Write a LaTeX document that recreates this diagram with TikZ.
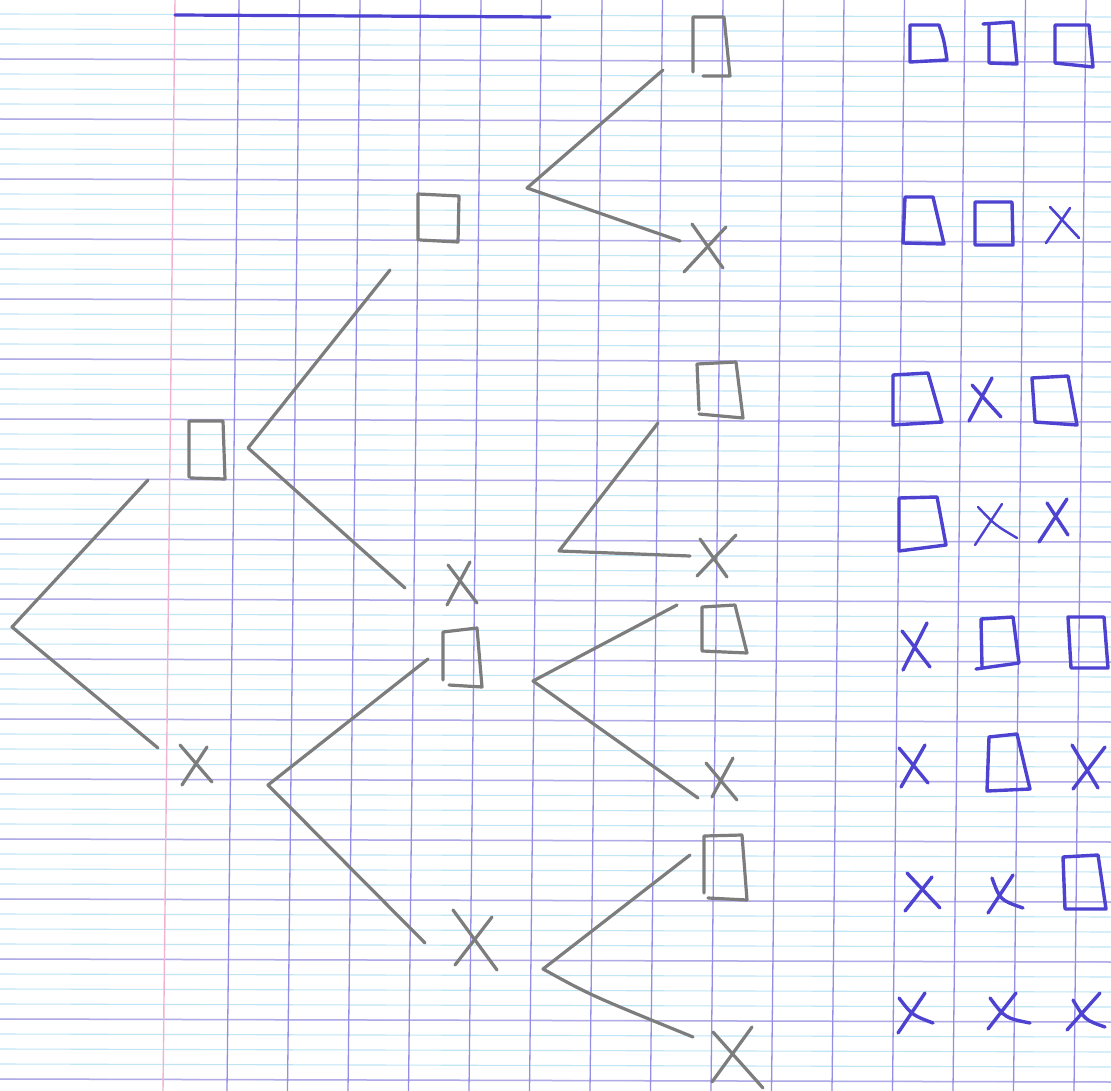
\documentclass[tikz,border=0pt]{standalone}
\definecolor{minorline}{RGB}{192,230,246}
\definecolor{majorline}{RGB}{178,170,230}
\definecolor{vline}{RGB}{150,142,228}
\definecolor{marginline}{RGB}{240,180,208}
\definecolor{pencil}{RGB}{125,125,125}
\definecolor{ink}{RGB}{78,66,208}
\begin{document}
\begin{tikzpicture}[x=1pt,y=-1pt,
  pencilline/.style={draw=pencil,line width=3.2pt,line cap=round,line join=round},
  inkline/.style={draw=ink,line width=3.4pt,line cap=round,line join=round}]
\useasboundingbox (0,0) rectangle (1111,1091);
\fill[white] (0,0) rectangle (1111,1091);
% ruled paper
\foreach \j in {0,...,72}{\pgfmathsetmacro\yy{14+15*\j}
  \draw[minorline,line width=1.1pt] (0,\yy) -- (1111,\yy+3);}
\foreach \j in {0,...,17}{\pgfmathsetmacro\yy{59+60*\j}
  \draw[majorline,line width=1.5pt] (0,\yy) -- (1111,\yy+3);}
\foreach \k in {0,...,14}{\pgfmathsetmacro\xx{239+60.5*\k}
  \draw[vline,line width=1.3pt] (\xx,0) -- (\xx-12,1091);}
\draw[marginline,line width=1.4pt] (175,0) -- (163,1091);
% title underline
\coordinate (ulA) at (175,15); \coordinate (ulB) at (550,17);
\draw[inkline,line width=3.2pt] (ulA) -- (ulB);
% ---- tree (pencil) ----
\coordinate (r) at (12,627); \coordinate (rU) at (148,480); \coordinate (rD) at (158,748);
\coordinate (v1) at (248,448); \coordinate (v1U) at (390,270); \coordinate (v1D) at (405,588);
\coordinate (v2) at (268,785); \coordinate (v2U) at (428,659); \coordinate (v2D) at (425,943);
\coordinate (v11) at (527,188); \coordinate (v11U) at (663,70); \coordinate (v11D) at (680,241);
\coordinate (v12) at (559,551); \coordinate (v12U) at (658,423); \coordinate (v12D) at (690,556);
\coordinate (v21) at (533,681); \coordinate (v21U) at (677,605); \coordinate (v21D) at (698,798);
\coordinate (v22) at (543,969); \coordinate (v22U) at (690,855); \coordinate (v22D) at (693,1037);
\draw[pencilline] (rU) -- (r) -- (rD);
\draw[pencilline] (v1U) -- (v1) -- (v1D);
\draw[pencilline] (v2U) -- (v2) -- (v2D);
\draw[pencilline] (v11U) -- (v11) -- (v11D);
\draw[pencilline] (v12U) -- (v12) -- (v12D);
\draw[pencilline] (v21U) -- (v21) -- (v21D);
\draw[pencilline] (v22U) -- (v22) .. controls (590,995) .. (v22D);
% pencil squares
\draw[pencilline] (189,477) -- (189,421) -- (223,421) -- (225,479) -- (191,478);
\draw[pencilline] (418,240) -- (418,194) -- (459,196) -- (458,242) -- (420,240);
\draw[pencilline] (443,680) -- (443,632) -- (477,628) -- (482,687) -- (449,685);
\draw[pencilline] (693,72) -- (693,17) -- (724,17) -- (730,76) -- (703,76);
\draw[pencilline] (699,410) -- (697,364) -- (736,362) -- (743,418) -- (699,414);
\draw[pencilline] (702,650) -- (702,607) -- (735,605) -- (747,653) -- (702,651);
\draw[pencilline] (704,893) -- (704,836) -- (742,835) -- (747,900) -- (708,898);
% pencil crosses
\draw[pencilline] (180,745) -- (212,782) (182,785) -- (207,747);
\draw[pencilline] (448,565) -- (477,603) (447,605) -- (470,562);
\draw[pencilline] (453,910) -- (497,970) (455,965) -- (492,917);
\draw[pencilline] (692,224) -- (723,268) (684,272) -- (726,227);
\draw[pencilline] (700,539) -- (727,577) (697,576) -- (736,535);
\draw[pencilline] (706,763) -- (737,800) (712,797) -- (733,758);
\draw[pencilline] (712,1082) -- (752,1027) (713,1032) -- (763,1088);
% ---- outcomes (blue ink) ----
% row 1
\draw[inkline] (910,62) -- (910,25) -- (939,25) .. controls (944,40) .. (947,60) -- cycle;
\draw[inkline] (983,24) -- (1013,22) -- (1017,64) -- (989,63) -- (989,25);
\draw[inkline] (1055,63) -- (1055,25) -- (1089,25) -- (1093,67) -- cycle;
% row 2
\draw[inkline] (903,243) -- (905,197) -- (933,197) -- (944,244) -- cycle;
\draw[inkline] (975,245) -- (975,202) -- (1012,202) -- (1013,245) -- cycle;
\draw[inkline,line width=2.6pt] (1050,207) -- (1079,238) (1046,243) -- (1070,208);
% row 3
\draw[inkline] (893,425) -- (893,375) -- (928,373) -- (942,422) -- cycle;
\draw[inkline] (972,385) -- (1001,417) (969,421) -- (992,378);
\draw[inkline] (1035,422) -- (1032,378) -- (1068,376) -- (1077,425) -- cycle;
% row 4
\draw[inkline] (899,551) -- (899,498) -- (937,497) -- (946,545) -- cycle;
\draw[inkline,line width=2.4pt] (975,545) -- (1002,504) (978,507) .. controls (995,525) .. (1017,538);
\draw[inkline] (1047,503) -- (1068,535) (1039,542) -- (1067,499);
% row 5
\draw[inkline] (902,631) -- (930,667) (903,670) -- (927,623);
\draw[inkline] (982,667) -- (981,619) -- (1013,617) -- (1019,663) -- (976,669);
\draw[inkline] (1071,668) -- (1068,617) -- (1104,617) -- (1108,668) -- cycle;
% row 6
\draw[inkline] (899,748) -- (928,783) (901,787) -- (925,745);
\draw[inkline] (987,791) -- (989,737) -- (1017,734) -- (1030,789) -- cycle;
\draw[inkline] (1072,745) -- (1098,788) (1073,789) -- (1105,747);
% row 7
\draw[inkline] (907,873) -- (940,908) (905,911) -- (932,877);
\draw[inkline] (992,878) .. controls (1000,900) .. (1023,908) (988,913) -- (1013,875);
\draw[inkline] (1065,909) -- (1063,857) -- (1098,855) -- (1106,909) -- cycle;
% row 8
\draw[inkline] (898,1033) -- (925,993) (899,998) .. controls (912,1015) .. (933,1023);
\draw[inkline] (988,1029) -- (1016,993) (990,998) .. controls (1005,1018) .. (1030,1023);
\draw[inkline] (1067,1030) -- (1100,993) (1073,1000) .. controls (1085,1020) .. (1105,1027);
\end{tikzpicture}
\end{document}
